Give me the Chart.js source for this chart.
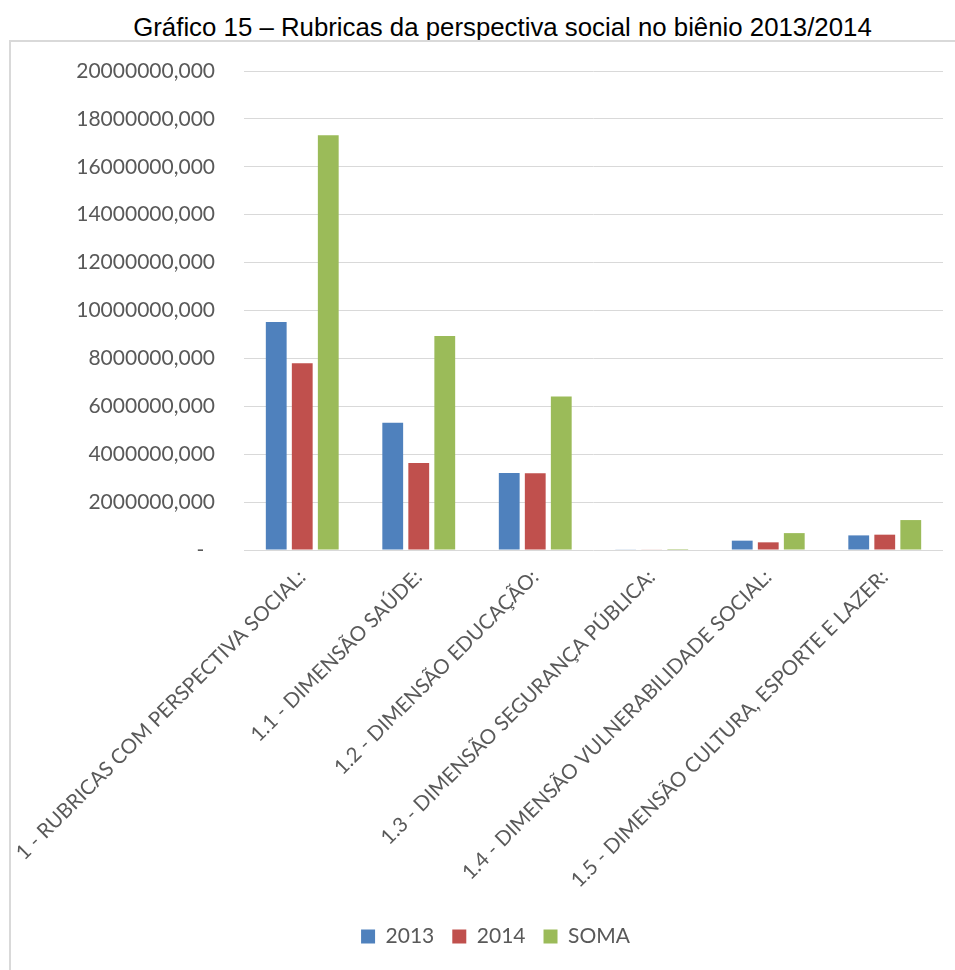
<!DOCTYPE html>
<html lang="pt">
<head>
  <meta charset="utf-8">
  <title>Gráfico 15 – Rubricas da perspectiva social</title>
  <script src="https://cdn.jsdelivr.net/npm/chart.js@4.4.1/dist/chart.umd.min.js"></script>
  <style>
    html, body { margin: 0; padding: 0; background: #fff; }
    body { width: 955px; height: 970px; position: relative; overflow: hidden; }
    #titulo {
      position: absolute; left: 0; top: 12px; width: 1005px;
      text-align: center; font-family: "Liberation Sans", Arial, sans-serif;
      font-size: 25.8px; color: #000; line-height: 30px;
    }
    #moldura {
      position: absolute; left: 9px; top: 40px; width: 1000px; height: 1000px;
      border: 2px solid #d9d9d9; box-sizing: border-box;
    }
    #grafico { position: absolute; left: 0; top: 0; }
  </style>
</head>
<body>
  <div id="titulo">Gráfico 15 – Rubricas da perspectiva social no biênio 2013/2014</div>
  <div id="moldura"></div>
  <canvas id="grafico" width="955" height="970"></canvas>

  <script>
    // Dados
    const categorias = [
      '1 - RUBRICAS COM PERSPECTIVA SOCIAL:',
      '1.1 - DIMENSÃO SAÚDE:',
      '1.2 - DIMENSÃO EDUCAÇÃO:',
      '1.3 - DIMENSÃO SEGURANÇA PÚBLICA:',
      '1.4 - DIMENSÃO VULNERABILIDADE SOCIAL:',
      '1.5 - DIMENSÃO CULTURA, ESPORTE E LAZER:'
    ];
    const valores2013 = [9520000, 5310000, 3210000, 15000, 390000, 610000];
    const valores2014 = [7800000, 3630000, 3200000, 25000, 320000, 640000];
    const valoresSoma = [17320000, 8940000, 6410000, 40000, 705000, 1250000];

    const fonte = '"Lato", "Open Sans", sans-serif';
    const corTexto = '#595959';

    new Chart(document.getElementById('grafico'), {
      type: 'bar',
      data: {
        labels: categorias,
        datasets: [
          { label: '2013', data: valores2013, backgroundColor: '#4f81bd' },
          { label: '2014', data: valores2014, backgroundColor: '#c0504d' },
          { label: 'SOMA', data: valoresSoma, backgroundColor: '#9bbb59' }
        ]
      },
      options: {
        responsive: false,
        animation: false,
        categoryPercentage: 0.67,
        barPercentage: 0.8,
        // padding esquerdo para centrar a legenda como no original
        layout: { padding: { top: 71, right: 12, bottom: 13, left: 48 } },
        scales: {
          x: {
            grid: { display: false },
            border: { display: false },
            ticks: {
              autoSkip: false,
              maxRotation: 45,
              minRotation: 45,
              padding: 7,
              color: corTexto,
              font: { family: fonte, size: 20.5 }
            },
            afterFit: function(scale) {
              scale.height = 358;
              scale.paddingLeft = 0;
              scale.paddingRight = 0;
            }
          },
          y: {
            min: 0,
            max: 20000000,
            grid: { color: '#d9d9d9', drawTicks: false },
            border: { display: false },
            ticks: {
              stepSize: 2000000,
              padding: 29,
              color: corTexto,
              font: { family: fonte, size: 21 },
              callback: function(v) { return v === 0 ? '-  ' : v + ',000'; }
            },
            afterFit: function(scale) { scale.width = 196; }
          }
        },
        plugins: {
          legend: {
            position: 'bottom',
            labels: {
              boxWidth: 14,
              boxHeight: 14,
              padding: 18,
              color: corTexto,
              font: { family: fonte, size: 21 }
            }
          },
          tooltip: { enabled: false }
        }
      }
    });
  </script>
</body>
</html>
